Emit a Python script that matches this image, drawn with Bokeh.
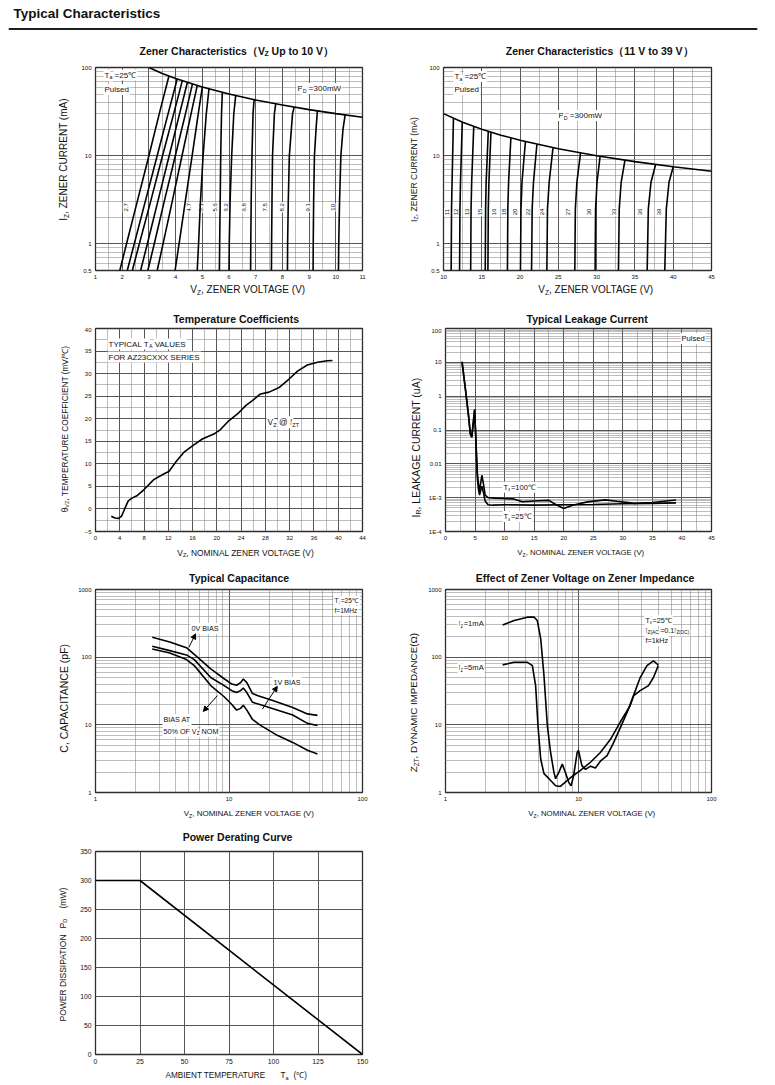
import math
from bokeh.plotting import figure
from bokeh.models import (Label, Span, Arrow, NormalHead, FixedTicker, Range1d,
                          CustomJSTickFormatter)
from bokeh.layouts import column, row
from bokeh.embed import file_html
from bokeh.resources import INLINE

FONT = "Liberation Sans"

page_title = "Typical Characteristics"

# ---------------- Chart 1: Zener characteristics up to 10 V ----------------
z1_names = ["2.7", "3.0", "3.3", "3.6", "3.9", "4.3", "4.7", "5.1", "5.6",
            "6.2", "6.8", "7.5", "8.2", "9.1", "10"]
z1_v = [
    [1.91, 2.16, 2.56, 3.00, 3.39, 3.75],
    [2.19, 2.45, 2.86, 3.31, 3.72, 4.06],
    [2.38, 2.64, 3.06, 3.51, 3.93, 4.25],
    [2.69, 2.94, 3.33, 3.76, 4.15, 4.44],
    [2.96, 3.20, 3.57, 3.99, 4.37, 4.63],
    [3.31, 3.53, 3.87, 4.24, 4.58, 4.81],
    [3.98, 4.13, 4.36, 4.62, 4.85, 5.00],
    [4.81, 4.86, 4.93, 5.03, 5.15, 5.25],
    [5.64, 5.65, 5.67, 5.69, 5.72, 5.75],
    [6.00, 6.01, 6.04, 6.10, 6.18, 6.25],
    [6.81, 6.815, 6.83, 6.86, 6.90, 6.94],
    [7.59, 7.595, 7.61, 7.63, 7.70, 7.75],
    [8.19, 8.195, 8.22, 8.26, 8.38, 8.44],
    [9.15, 9.155, 9.17, 9.20, 9.26, 9.31],
    [10.10, 10.11, 10.14, 10.19, 10.27, 10.35],
]
z1_i = [
    [0.5, 1, 3, 10, 30, 80],
    [0.5, 1, 3, 10, 30, 74],
    [0.5, 1, 3, 10, 30, 70.6],
    [0.5, 1, 3, 10, 30, 67.6],
    [0.5, 1, 3, 10, 30, 64.8],
    [0.5, 1, 3, 10, 30, 62.3],
    [0.5, 1, 3, 10, 30, 60],
    [0.5, 1, 3, 10, 30, 57],
    [0.5, 1, 3, 10, 30, 52.2],
    [0.5, 1, 3, 10, 30, 48],
    [0.5, 1, 3, 10, 30, 43.2],
    [0.5, 1, 3, 10, 30, 38.7],
    [0.5, 1, 3, 10, 30, 35.5],
    [0.5, 1, 3, 10, 20, 32.2],
    [0.5, 1, 3, 10, 20, 29.0],
]
env1_v = [3.0, 3.5, 4.0, 5.0, 6.0, 7.0, 8.0, 9.0, 10.0, 11.0]
env1_i = [100, 85.7, 75, 60, 50, 42.9, 37.5, 33.3, 30, 27.3]
z1_lbl = ["2.7", "4.7", "5.1", "5.6", "6.2", "6.8", "7.5", "8.2", "9.1", "10"]
z1_lbl_v = [2.13, 4.50, 4.94, 5.46, 5.90, 6.55, 7.33, 7.97, 8.95, 9.88]
z1_lbl_i = 2.6

# ---------------- Chart 2: Zener characteristics 11 V to 39 V ----------------
z2_names = ["11", "12", "13", "15", "16", "18", "20", "22", "24", "27", "30", "33", "36", "39"]
z2_v = [
    [11.00, 11.05, 11.12, 11.30],
    [12.10, 12.15, 12.22, 12.45],
    [13.55, 13.60, 13.68, 13.95],
    [15.45, 15.50, 15.57, 15.85],
    [15.80, 15.85, 15.93, 16.20],
    [18.35, 18.40, 18.50, 18.80],
    [20.05, 20.12, 20.25, 20.70],
    [21.50, 21.58, 21.75, 22.20],
    [23.50, 23.58, 23.80, 24.30],
    [27.15, 27.22, 27.42, 27.90],
    [29.80, 29.86, 30.05, 30.45],
    [32.85, 32.95, 33.20, 33.70],
    [36.60, 36.75, 37.10, 37.70],
    [38.90, 39.10, 39.45, 40.00],
]
z2_i = [
    [0.5, 2.5, 5, 26.5],
    [0.5, 2.5, 5, 24.1],
    [0.5, 2.5, 5, 21.5],
    [0.5, 2.5, 5, 18.9],
    [0.5, 2.5, 5, 18.5],
    [0.5, 2.5, 5, 16.0],
    [0.5, 2.5, 5, 14.5],
    [0.5, 2.5, 5, 13.5],
    [0.5, 2.5, 5, 12.3],
    [0.5, 2.5, 5, 10.75],
    [0.5, 2.5, 5, 9.85],
    [0.5, 2.5, 5, 8.9],
    [0.5, 2.5, 5, 7.96],
    [0.5, 2.5, 5, 7.5],
]
env2_v = [10, 12.5, 15, 17.5, 20, 25, 30, 35, 40, 45]
env2_i = [30, 24, 20, 17.1, 15, 12, 10, 8.57, 7.5, 6.67]
z2_lbl_v = [10.45, 11.6, 13.1, 14.8, 16.6, 17.9, 19.4, 21.0, 22.8, 26.2, 29.0, 32.3, 35.7, 38.2]
z2_lbl_i = 2.3

# ---------------- Chart 3: Temperature coefficients ----------------
tc_vz = [2.6, 3.2, 3.8, 4.3, 4.8, 5.4, 6.0, 6.9, 8.0, 9.6, 11.3, 12.1, 13.2, 14.6, 16.2,
         17.6, 19.5, 20.6, 22.0, 23.4, 24.75, 25.85, 27.2, 28.6, 30.25, 31.9, 33.3,
         34.9, 36.6, 38.2, 39.05]
tc_coef = [-1.6, -2.0, -2.1, -1.6, 0.0, 1.8, 2.4, 3.0, 4.3, 6.5, 7.8, 8.3, 10.35, 12.6,
           14.2, 15.5, 16.6, 17.6, 19.6, 21.05, 22.9, 24.0, 25.5, 25.9, 26.9, 28.8,
           30.56, 31.9, 32.5, 32.85, 32.9]

# ---------------- Chart 4: Typical leakage current ----------------
lk100_v = [2.8, 3.4, 3.9, 4.2, 4.45, 4.75, 4.92, 5.14, 5.37, 5.59, 5.76, 6.15, 6.43, 6.7,
           7.2, 8.5, 10, 11.5, 13, 15, 17.5, 18.5, 20, 21.5, 24, 27, 29, 32, 35, 39]
lk100_i = [10.5, 1.5, 0.27, 0.08, 0.065, 0.21, 0.41, 0.055, 0.0057, 0.0025, 0.0016,
           0.0046, 0.0025, 0.0012, 1.0e-3, 9.7e-4, 9.4e-4, 9.2e-4, 7.6e-4, 8.0e-4,
           8.3e-4, 6.5e-4, 4.8e-4, 6.0e-4, 7.5e-4, 8.6e-4, 7.8e-4, 6.8e-4, 7.2e-4, 8.5e-4]
lk25_v = [2.8, 3.4, 3.9, 4.2, 4.45, 4.75, 4.92, 5.14, 5.37, 5.59, 5.76, 6.15, 6.43, 6.7,
          7.2, 8, 10, 15, 20, 25, 30, 35, 39]
lk25_i = [10.0, 1.4, 0.25, 0.075, 0.06, 0.19, 0.38, 0.05, 0.004, 0.0017, 0.0012, 0.0022,
          0.0014, 8e-4, 6.2e-4, 6.0e-4, 6.2e-4, 6.0e-4, 6.2e-4, 6.3e-4, 6.6e-4, 6.8e-4, 7.0e-4]

# ---------------- Chart 5: Typical capacitance ----------------
cap0_v = [2.66, 3.6, 4.8, 5.8, 7.3, 9.2, 10.5, 11.4, 12.2, 12.8, 13.6, 15.0, 16.5, 21.0,
          30.0, 38.7, 46.0]
cap0_c = [197, 168, 138, 100, 67, 48, 40, 38.5, 42, 47.5, 42, 29, 27, 23, 18, 14.5, 13.8]
cap1_v = [2.66, 3.6, 4.8, 5.5, 7.3, 9.2, 10.5, 11.4, 12.2, 12.8, 13.6, 15.0, 17.0, 22.0,
          30.0, 38.7, 46.0]
cap1_c = [145, 125, 108, 92, 50, 38, 32, 30, 32, 35, 30, 21.5, 20, 17, 14, 10.5, 9.8]
cap50_v = [2.66, 3.6, 4.8, 5.5, 7.3, 9.2, 10.5, 11.4, 12.2, 12.8, 13.6, 15.0, 17.0, 23.0,
           30.0, 38.7, 46.0]
cap50_c = [132, 115, 92, 75, 38, 26, 20, 16.5, 17.5, 19.5, 16.5, 12, 10, 7, 5.5, 4.2, 3.7]

# ---------------- Chart 6: Zener impedance ----------------
zz1_v = [2.69, 3.28, 4.13, 4.63, 4.9, 5.2, 5.5, 5.83, 6.17, 6.53, 6.73, 7.13, 7.55, 7.95,
         8.46, 8.8, 9.2, 9.77, 10.0, 10.6, 11.3, 12.3, 13.4, 14.6, 16.4, 18.4, 20.6, 23.1,
         25.9, 29.1, 32.7, 36.6, 39.8]
zz1_z = [300, 348, 390, 390, 348, 186, 53.5, 9.7, 3.9, 2.0, 1.6, 2.0, 2.63, 2.0, 1.4, 1.26,
         1.8, 3.9, 4.2, 2.5, 2.2, 2.45, 2.3, 2.9, 3.5, 5.5, 9, 15, 27, 50, 75, 88, 77]
zz5_v = [2.69, 3.28, 4.13, 4.5, 4.76, 4.96, 5.2, 5.5, 6.0, 6.73, 7.3, 8.2, 9.2, 10.3, 12.3,
         14.6, 17.4, 20.6, 24.4, 26.0, 29.1, 33.6, 36.6, 39.8]
zz5_z = [77, 84, 84, 75, 38, 9.7, 3.1, 1.9, 1.6, 1.26, 1.23, 1.5, 1.8, 2.1, 2.8, 3.9, 6.1,
         11, 19, 27, 32, 38, 50, 75]

# ---------------- Chart 7: Power derating ----------------
pd_temp = [0, 25, 150]
pd_power = [300, 300, 0]

# ---------------- text width helper (Arial / Helvetica metrics) ----------------
_UP = "ABCDEFGHIJKLMNOPQRSTUVWXYZ"
_LO = "abcdefghijklmnopqrstuvwxyz"
REG = dict(zip(_UP, [667, 667, 722, 722, 667, 611, 778, 722, 278, 500, 667, 556, 833, 722,
                     778, 667, 778, 722, 667, 611, 722, 667, 944, 667, 667, 611]))
REG.update(zip(_LO, [556, 556, 500, 556, 556, 278, 556, 556, 222, 222, 500, 222, 833, 556,
                     556, 556, 556, 333, 500, 278, 556, 500, 722, 500, 500, 500]))
BOLD = dict(zip(_UP, [722, 722, 722, 722, 667, 611, 778, 722, 278, 556, 722, 611, 833, 722,
                      778, 667, 778, 722, 667, 611, 722, 667, 944, 667, 667, 611]))
BOLD.update(zip(_LO, [556, 611, 556, 611, 556, 333, 611, 611, 278, 278, 556, 278, 889, 611,
                      611, 611, 611, 389, 556, 333, 611, 556, 778, 556, 556, 500]))
COMMON = {" ": 278, ",": 278, ".": 278, "(": 333, ")": 333, "-": 333, "/": 278, "=": 584,
          "%": 889, "@": 1015, "Ω": 768, "θ": 556, "℃": 1000, "（": 1000, "）": 1000}
for d in "0123456789":
    COMMON[d] = 556


def tw(s, size, bold=False):
    t = BOLD if bold else REG
    return sum(t.get(ch, COMMON.get(ch, 600)) for ch in s) * size / 1000.0


SUB = 0.66
SUB_SHIFT = 0.3


def rich(p, F, parts, size, px, py, angle=0.0, align="center", bold=False, bg=False,
         level="annotation", color="#111111"):
    """Compose text with subscripts; (px, py) are page pixels of the line centre
    (or start), F is the page position of the figure frame's top-left corner."""
    ax, ay = p.x_range.start, p.y_range.end
    fx, fy = F
    widths = [tw(t, size * (SUB if s else 1.0), bold) for t, s in parts]
    W = sum(widths)
    if angle == 0:
        pos = px - fx - (W / 2 if align == "center" else 0)
    else:
        pos = py - fy + (W / 2 if align == "center" else 0)
    for (t, s), w in zip(parts, widths):
        fs = size * (SUB if s else 1.0)
        lead = len(t) - len(t.lstrip(" "))
        adv = tw(" " * lead, fs, bold)
        txt = t.strip(" ")
        shift = SUB_SHIFT * size if s else 0
        kw = dict(x=ax, y=ay, text=txt, text_font=FONT, text_font_size="%.2fpx" % fs,
                  text_align="left", text_baseline="middle", text_color=color, level=level,
                  text_font_style="bold" if bold else "normal")
        if angle == 0:
            kw.update(x_offset=pos + adv, y_offset=-(py - fy + shift))
            pos += w
        else:
            kw.update(x_offset=px - fx + shift, y_offset=-(pos - adv), angle=math.pi / 2)
            pos -= w
        if bg:
            kw.update(background_fill_color="white", padding=1)
        if txt:
            p.add_layout(Label(**kw))


LOG_FMT = CustomJSTickFormatter(code="""
const e = Math.round(Math.log10(tick));
if (Math.abs(tick - Math.pow(10, e)) > 1e-9 * Math.pow(10, e)) { return String(tick); }
return String(Math.pow(10, e) >= 1 ? Math.round(Math.pow(10, e)) : Number(Math.pow(10, e).toPrecision(1)));
""")
LEAK_FMT = CustomJSTickFormatter(code="""
const e = Math.round(Math.log10(tick));
const m = {"-4": "1E-4", "-3": "1E-3", "-2": "0.01", "-1": "0.1", "0": "1", "1": "10", "2": "100"};
return m[String(e)];
""")


def strip(w, h, bl=0, br=0):
    s = figure(width=w, height=h, x_range=Range1d(0, 1), y_range=Range1d(0, 1),
               output_backend="svg", toolbar_location=None, title=None,
               x_axis_location=None, y_axis_location=None,
               min_border_left=bl, min_border_right=br, min_border_top=0, min_border_bottom=0)
    s.grid.visible = False
    s.outline_line_color = None
    s.background_fill_color = "white"
    s.border_fill_color = "white"
    return s


def base_fig(w, h, bl, br, bt, bb, xr, yr, xt="linear", yt="linear", tick_size="6px"):
    p = figure(width=w, height=h, x_range=xr, y_range=yr, x_axis_type=xt, y_axis_type=yt,
               output_backend="svg", toolbar_location=None, title=None,
               min_border_left=bl, min_border_right=br, min_border_top=bt,
               min_border_bottom=bb)
    p.outline_line_color = "#2e2e2e"
    p.outline_line_width = 1.3
    p.background_fill_color = "white"
    p.border_fill_color = "white"
    for ax in (p.xaxis[0], p.yaxis[0]):
        ax.axis_line_color = None
        ax.major_tick_line_color = None
        ax.minor_tick_line_color = None
        ax.major_tick_out = 0
        ax.major_tick_in = 0
        ax.minor_tick_out = 0
        ax.minor_tick_in = 0
        ax.major_label_text_font = FONT
        ax.major_label_text_font_size = tick_size
        ax.major_label_text_color = "#111111"
        ax.major_label_standoff = 4
    p.grid.grid_line_color = "#555555"
    p.grid.grid_line_width = 1
    p.grid.minor_grid_line_color = "#7a7a7a"
    p.grid.minor_grid_line_dash = "1 1"
    p.grid.minor_grid_line_width = 1
    return p


def ticks(p, axis, major, minor=None, fmt=None):
    t = FixedTicker(ticks=major, minor_ticks=minor or [])
    ax = p.xaxis[0] if axis == "x" else p.yaxis[0]
    g = p.xgrid[0] if axis == "x" else p.ygrid[0]
    ax.ticker = t
    g.ticker = t
    if fmt is not None:
        ax.formatter = fmt
    if not minor:
        g.minor_grid_line_color = None


def log_minor(e0, e1):
    return [m * 10.0 ** e for e in range(e0, e1) for m in range(2, 10)]


def curve_label(p, txt, x, y, size="6px"):
    p.add_layout(Label(x=x, y=y, text=txt, angle=math.pi / 2, text_align="center",
                       text_baseline="middle", text_font=FONT, text_font_size=size,
                       text_color="#111111", background_fill_color="white", padding=1,
                       level="underlay"))


LW = 1.6
W_TOTAL = 767

# ---------------- header ----------------
hdr = strip(W_TOTAL, 36, bl=8, br=10)
hdr.add_layout(Label(x=0, y=1, x_offset=5, y_offset=-12.5, text=page_title, text_font=FONT,
                     text_font_style="bold", text_font_size="13.5px", text_baseline="middle",
                     text_color="#111111"))
hdr.add_layout(Span(location=1 - 28.5 / 36, dimension="width", line_color="#1e1e1e",
                    line_width=2))

# ================= ROW 1 (page y 36 .. 300) =================
t1 = strip(W_TOTAL, 24)                      # page y 36..60
y1L = strip(72, 222)                         # page x 0..72,   y 60..282
y1R = strip(55, 222)                         # page x 370..425
x1 = strip(W_TOTAL, 18)                      # page y 282..300

F1 = (95, 67)
p1 = base_fig(298, 222, 23, 8, 7, 12, Range1d(1, 11), Range1d(0.5, 100), yt="log")
ticks(p1, "x", list(range(1, 12)), [k + 0.5 for k in range(1, 11)])
ticks(p1, "y", [0.5, 1, 10, 100], [0.6, 0.7, 0.8, 0.9] + log_minor(0, 2), LOG_FMT)
for nm, v in zip(z1_lbl, z1_lbl_v):
    curve_label(p1, nm, v, z1_lbl_i)
for v, i in zip(z1_v, z1_i):
    p1.line(v, i, line_color="black", line_width=LW)
p1.line(env1_v, env1_i, line_color="black", line_width=LW)
rich(p1, F1, [("T", 0), ("a", 1), (" =25℃", 0)], 8, 103, 74.5, align="left", bg=True)
rich(p1, F1, [("Pulsed", 0)], 8, 103, 89, align="left", bg=True)
rich(p1, F1, [("P", 0), ("D", 1), (" =300mW", 0)], 8, 296, 88, align="left", bg=True)

F2 = (443, 67)
p2 = base_fig(342, 222, 18, 56, 7, 12, Range1d(10, 45), Range1d(0.5, 100), yt="log")
ticks(p2, "x", list(range(10, 46, 5)), [k + 2.5 for k in range(10, 45, 5)])
ticks(p2, "y", [0.5, 1, 10, 100], [0.6, 0.7, 0.8, 0.9] + log_minor(0, 2), LOG_FMT)
for nm, v in zip(z2_names, z2_lbl_v):
    curve_label(p2, nm, v, z2_lbl_i)
for v, i in zip(z2_v, z2_i):
    p2.line(v, i, line_color="black", line_width=LW)
p2.line(env2_v, env2_i, line_color="black", line_width=LW)
rich(p2, F2, [("T", 0), ("a", 1), (" =25℃", 0)], 8, 453, 76, align="left", bg=True)
rich(p2, F2, [("Pulsed", 0)], 8, 453, 89, align="left", bg=True)
rich(p2, F2, [("P", 0), ("D", 1), (" =300mW", 0)], 8, 557, 115, align="left", bg=True)

rich(t1, (0, 36), [("Zener Characteristics（V", 0), ("Z", 1), (" Up to 10 V）", 0)], 10.5,
     228, 50, bold=True)
rich(t1, (0, 36), [("Zener Characteristics（11 V to 39 V）", 0)], 10.5, 591, 50, bold=True)
rich(x1, (0, 282), [("V", 0), ("Z", 1), (", ZENER VOLTAGE (V)", 0)], 10, 240, 289)
rich(x1, (0, 282), [("V", 0), ("Z", 1), (", ZENER VOLTAGE (V)", 0)], 10, 588, 289)
rich(y1L, (0, 60), [("I", 0), ("Z", 1), (", ZENER CURRENT (mA)", 0)], 10, 63, 152, angle=1)
rich(y1R, (370, 60), [("I", 0), ("Z", 1), (", ZENER CURRENT (mA)", 0)], 8.6, 413, 162, angle=1)

# ================= ROW 2 (page y 300 .. 560) =================
t2 = strip(W_TOTAL, 27)                      # 300..327
y2L = strip(72, 218)                         # 327..545
y2R = strip(55, 218)
x2 = strip(W_TOTAL, 15)                      # 545..560

F3 = (95, 328)
p3 = base_fig(298, 218, 23, 8, 1, 14, Range1d(0, 44), Range1d(-5, 40))
ticks(p3, "x", list(range(0, 45, 4)), [k + 2 for k in range(0, 44, 4)])
ticks(p3, "y", list(range(-5, 41, 5)), [k + 2.5 for k in range(-5, 40, 5)])
p3.line(tc_vz, tc_coef, line_color="black", line_width=LW)
rich(p3, F3, [("TYPICAL T", 0), ("A", 1), (" VALUES", 0)], 8, 107, 343.5, align="left", bg=True)
rich(p3, F3, [("FOR AZ23CXXX SERIES", 0)], 8, 107, 356.5, align="left", bg=True)
rich(p3, F3, [("V", 0), ("Z", 1), (" @ I", 0), ("ZT", 1)], 8.5, 266, 421.7, align="left", bg=True)

F4 = (443, 328)
p4 = base_fig(342, 218, 18, 56, 1, 14, Range1d(0, 45), Range1d(1e-4, 100), yt="log")
ticks(p4, "x", list(range(0, 46, 5)), [k + 2.5 for k in range(0, 45, 5)])
ticks(p4, "y", [0.0001, 0.001, 0.01, 0.1, 1, 10, 100], log_minor(-4, 2), LEAK_FMT)
p4.line(lk100_v, lk100_i, line_color="black", line_width=LW)
p4.line(lk25_v, lk25_i, line_color="black", line_width=LW)
rich(p4, F4, [("Pulsed", 0)], 7.6, 678, 338, align="left", bg=True)
rich(p4, F4, [("T", 0), ("a", 1), ("=100℃", 0)], 7.6, 500, 486.7, align="left", bg=True)
rich(p4, F4, [("T", 0), ("a", 1), ("=25℃", 0)], 7.6, 500, 516, align="left", bg=True)

rich(t2, (0, 300), [("Temperature Coefficients", 0)], 10.5, 228, 318, bold=True)
rich(t2, (0, 300), [("Typical Leakage Current", 0)], 10.5, 579, 318, bold=True)
rich(x2, (0, 545), [("V", 0), ("Z", 1), (", NOMINAL ZENER VOLTAGE (V)", 0)], 8.4, 238, 552)
rich(x2, (0, 545), [("V", 0), ("Z", 1), (", NOMINAL ZENER VOLTAGE (V)", 0)], 7.8, 573, 552)
rich(y2L, (0, 327), [("θ", 0), ("VZ", 1), (", TEMPERATURE COEFFICIENT (mV/℃)", 0)], 8.3,
     64, 427, angle=1)
rich(y2R, (370, 327), [("I", 0), ("R", 1), (", LEAKAGE CURRENT (uA)", 0)], 10.5, 415, 446,
     angle=1)

# ================= ROW 3 (page y 560 .. 822) =================
t3 = strip(W_TOTAL, 27)                      # 560..587
y3L = strip(72, 218)                         # 587..805
y3R = strip(55, 218)
x3 = strip(W_TOTAL, 17)                      # 805..822

F5 = (95, 589)
p5 = base_fig(298, 218, 23, 8, 2, 13, Range1d(1, 100), Range1d(1, 1000), xt="log", yt="log")
ticks(p5, "x", [1, 10, 100], log_minor(0, 2), LOG_FMT)
ticks(p5, "y", [1, 10, 100, 1000], log_minor(0, 3), LOG_FMT)
p5.line(cap0_v, cap0_c, line_color="black", line_width=LW)
p5.line(cap1_v, cap1_c, line_color="black", line_width=LW)
p5.line(cap50_v, cap50_c, line_color="black", line_width=LW)
rich(p5, F5, [("0V BIAS", 0)], 7.2, 190, 628, align="left", bg=True)
rich(p5, F5, [("1V BIAS", 0)], 7.2, 272, 682, align="left", bg=True)
rich(p5, F5, [("BIAS AT", 0)], 7.2, 162, 719, align="left", bg=True)
rich(p5, F5, [("50% OF V", 0), ("Z", 1), (" NOM", 0)], 7.2, 162, 731, align="left", bg=True)
rich(p5, F5, [("T", 0), ("J", 1), ("=25℃", 0)], 6.6, 333, 600, align="left", bg=True)
rich(p5, F5, [("f=1MHz", 0)], 6.6, 333, 610, align="left", bg=True)
for xs, ys, xe, ye in [(5.01, 140, 5.62, 221), (17.8, 17.1, 23.0, 37), (8.18, 27, 6.42, 15.8)]:
    p5.add_layout(Arrow(x_start=xs, y_start=ys, x_end=xe, y_end=ye, line_color="black",
                        line_width=1, end=NormalHead(size=5, fill_color="black",
                                                     line_color="black")))

F6 = (443, 589)
p6 = base_fig(342, 218, 18, 56, 2, 13, Range1d(1, 100), Range1d(1, 1000), xt="log", yt="log")
ticks(p6, "x", [1, 10, 100], log_minor(0, 2), LOG_FMT)
ticks(p6, "y", [1, 10, 100, 1000], log_minor(0, 3), LOG_FMT)
p6.line(zz1_v, zz1_z, line_color="black", line_width=LW)
p6.line(zz5_v, zz5_z, line_color="black", line_width=LW)
rich(p6, F6, [("I", 0), ("Z", 1), ("=1mA", 0)], 7.6, 455, 623, align="left", bg=True)
rich(p6, F6, [("I", 0), ("Z", 1), ("=5mA", 0)], 7.6, 455, 667, align="left", bg=True)
rich(p6, F6, [("T", 0), ("a", 1), ("=25℃", 0)], 7.2, 642, 620, align="left", bg=True)
rich(p6, F6, [("I", 0), ("Z(AC)", 1), ("=0.1I", 0), ("Z(DC)", 1)], 7.2, 642, 630, align="left",
     bg=True)
rich(p6, F6, [("f=1kHz", 0)], 7.2, 642, 640, align="left", bg=True)

rich(t3, (0, 560), [("Typical Capacitance", 0)], 10.5, 231, 577, bold=True)
rich(t3, (0, 560), [("Effect of Zener Voltage on Zener Impedance", 0)], 10.5, 577, 577,
     bold=True)
rich(x3, (0, 805), [("V", 0), ("Z", 1), (", NOMINAL ZENER VOLTAGE (V)", 0)], 8, 241, 813)
rich(x3, (0, 805), [("V", 0), ("Z", 1), (", NOMINAL ZENER VOLTAGE (V)", 0)], 7.8, 584, 813)
rich(y3L, (0, 587), [("C, CAPACITANCE (pF)", 0)], 10.5, 63, 695, angle=1)
rich(y3R, (370, 587), [("Z", 0), ("ZT", 1), (", DYNAMIC IMPEDANCE(Ω)", 0)], 9.8, 413, 700,
     angle=1)

# ================= ROW 4 (page y 822 .. 1084) =================
t4 = strip(W_TOTAL, 26)                      # 822..848
y4L = strip(72, 218)                         # 848..1066
x4 = strip(W_TOTAL, 18)                      # 1066..1084

F7 = (95, 851)
p7 = base_fig(298, 218, 23, 8, 3, 12, Range1d(0, 150), Range1d(0, 350), tick_size="6.8px")
ticks(p7, "x", list(range(0, 151, 25)))
ticks(p7, "y", list(range(0, 351, 50)))
p7.line(pd_temp, pd_power, line_color="black", line_width=LW)

rich(t4, (0, 822), [("Power Derating Curve", 0)], 10.5, 229, 836, bold=True)
rich(x4, (0, 1066), [("AMBIENT TEMPERATURE", 0)], 8.2, 157, 1075, align="left")
rich(x4, (0, 1066), [("T", 0), ("a", 1)], 8.2, 272, 1075, align="left")
rich(x4, (0, 1066), [("(℃)", 0)], 8.2, 285, 1075, align="left")
rich(y4L, (0, 848), [("POWER DISSIPATION", 0)], 8.5, 62, 1018, angle=1, align="left")
rich(y4L, (0, 848), [("P", 0), ("D", 1)], 8.5, 62, 925, angle=1, align="left")
rich(y4L, (0, 848), [("(mW)", 0)], 8.5, 62, 905, angle=1, align="left")

layout = column(
    hdr,
    t1, row(y1L, p1, y1R, p2), x1,
    t2, row(y2L, p3, y2R, p4), x2,
    t3, row(y3L, p5, y3R, p6), x3,
    t4, row(y4L, p7), x4,
)
open("out.html", "w").write(file_html(layout, INLINE, title="Typical Characteristics"))
